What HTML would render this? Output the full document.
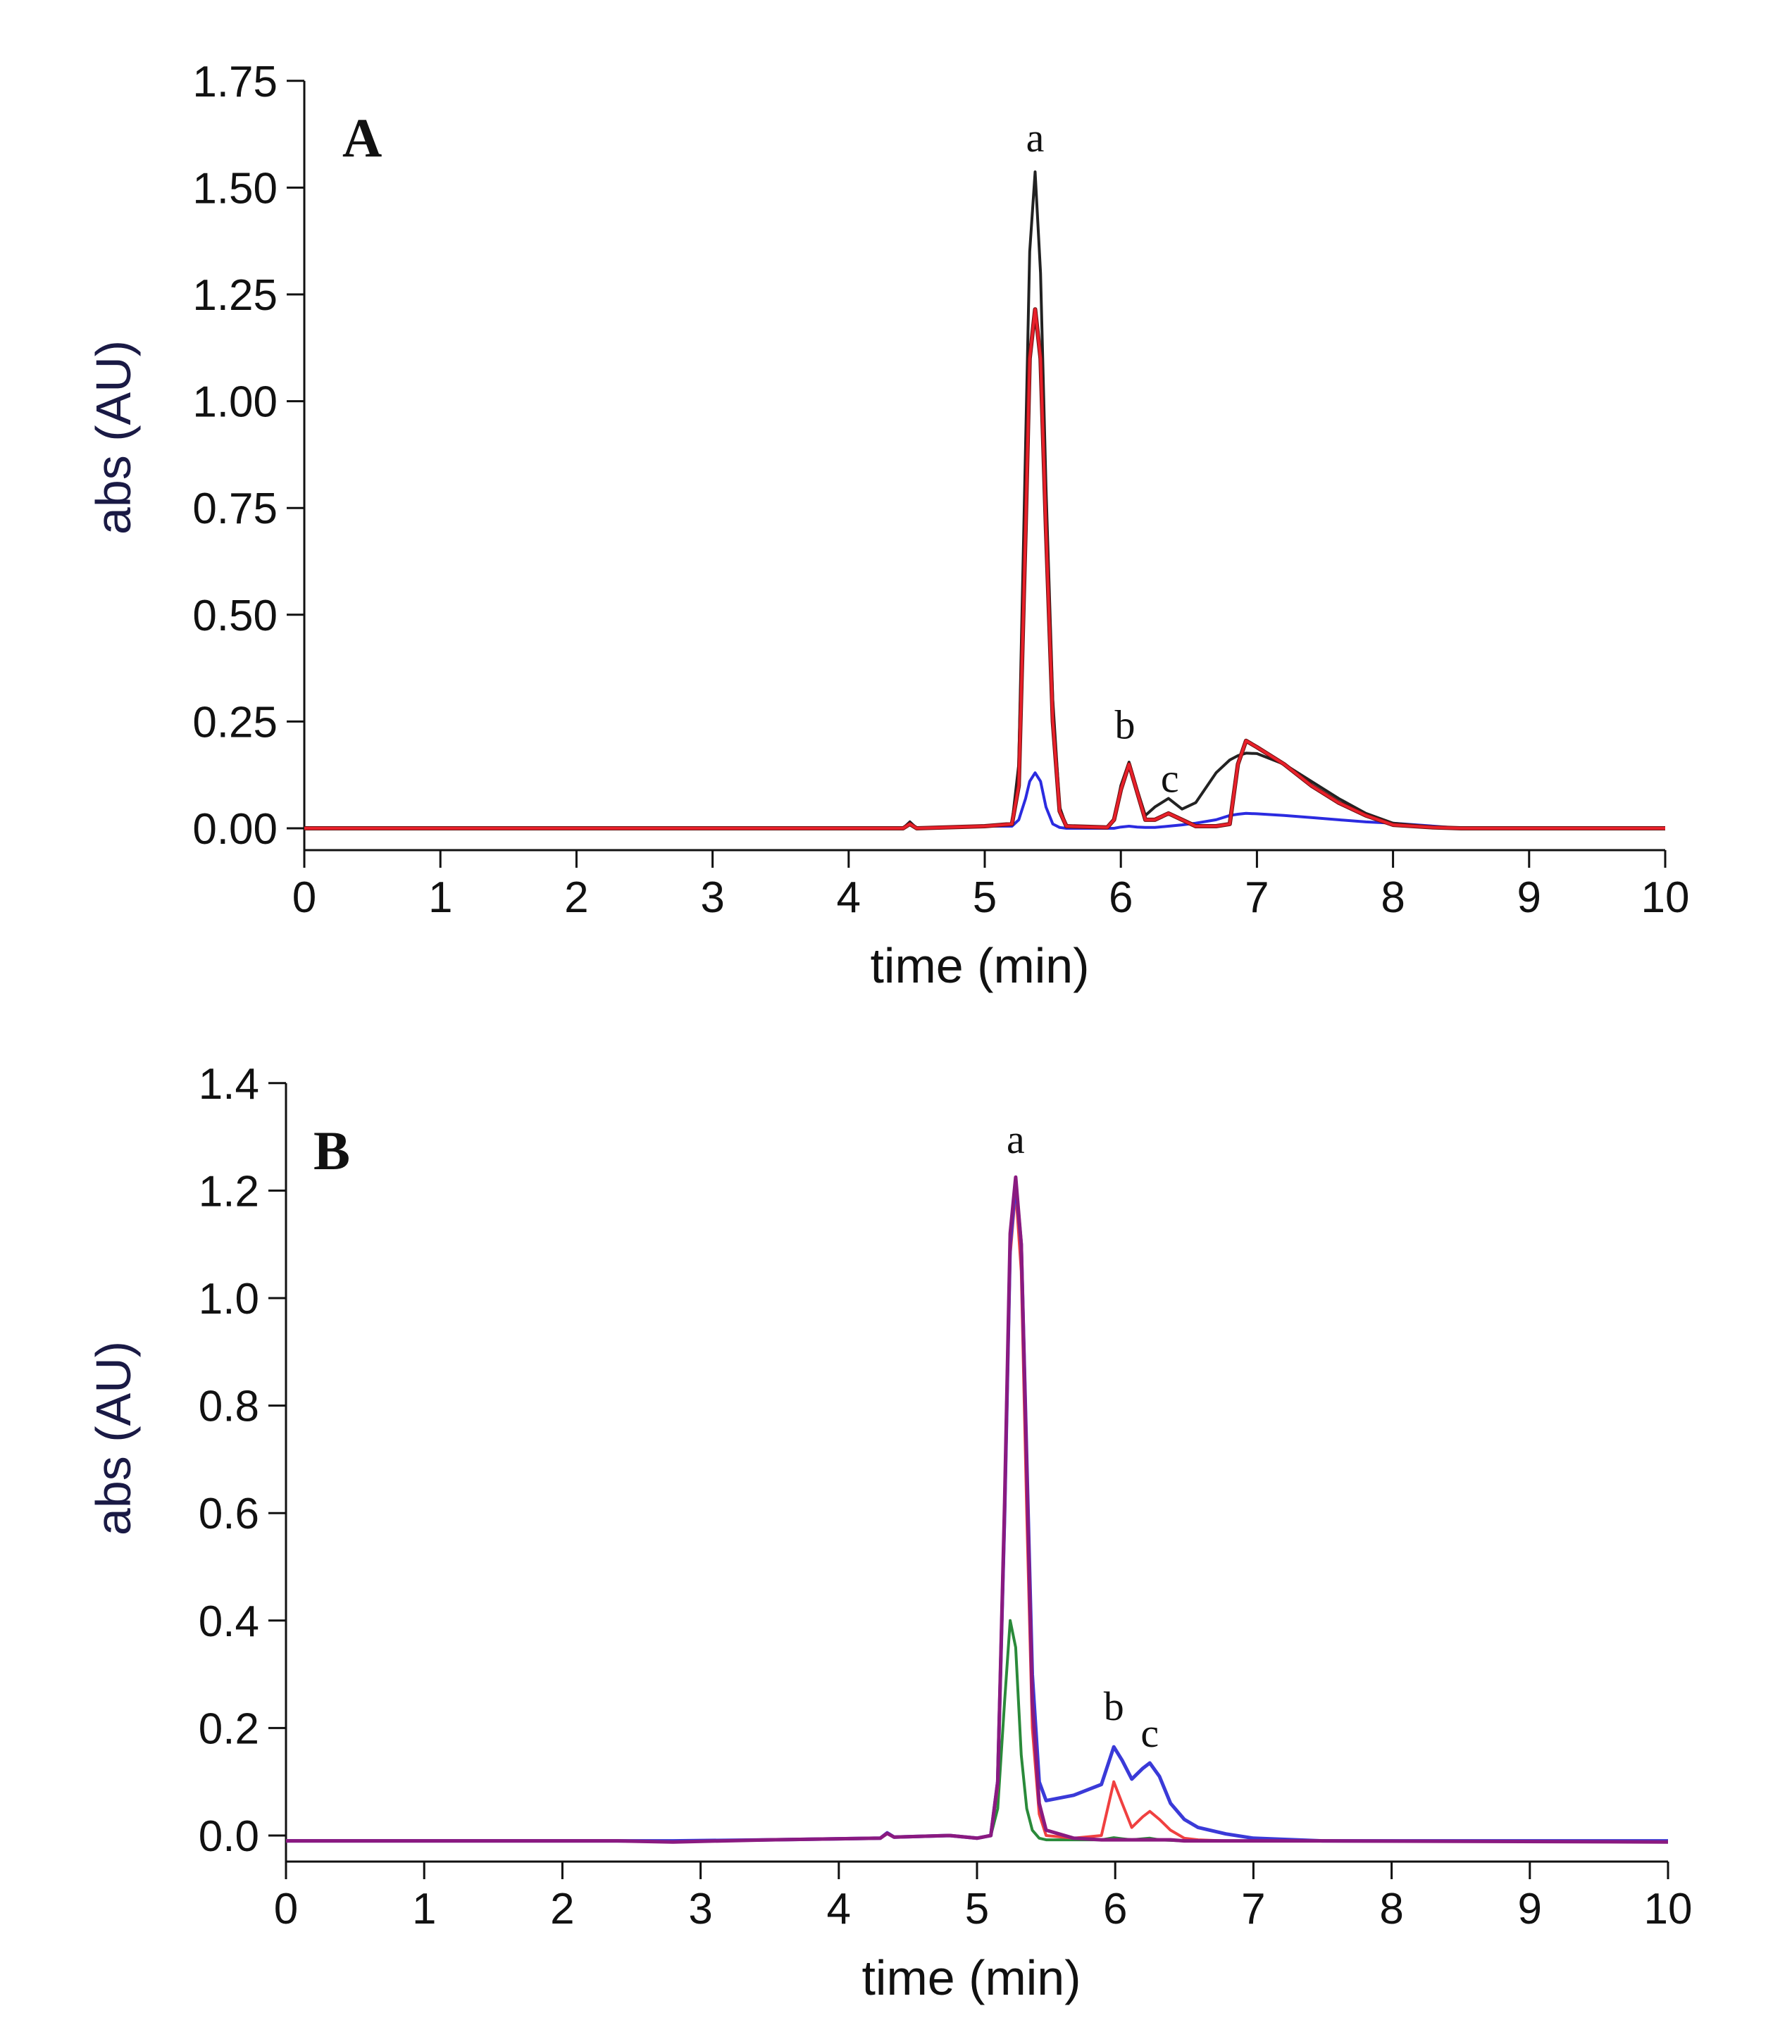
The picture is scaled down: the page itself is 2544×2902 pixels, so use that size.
<!DOCTYPE html>
<html><head><meta charset="utf-8"><style>
html,body{margin:0;padding:0;background:#fff;}
svg{display:block;}
</style></head><body>
<svg id="chart" width="2544" height="2902" viewBox="0 0 2544 2902" xmlns="http://www.w3.org/2000/svg" font-family="Liberation Sans, sans-serif">
<rect width="2544" height="2902" fill="#fff"/>
<g id="panelA"></g>
<g id="panelB"></g>
</svg>
<script>
// ---- Panel A data ----
const xTicks = [0,1,2,3,4,5,6,7,8,9,10];
const yTicksA = [0,0.25,0.5,0.75,1.0,1.25,1.5,1.75];
const yTickLabelsA = ["0.00","0.25","0.50","0.75","1.00","1.25","1.50","1.75"];
const timesA = [0,3,4.4,4.45,4.5,5.0,5.2,5.25,5.3,5.33,5.37,5.41,5.45,5.5,5.55,5.6,5.9,5.95,6.0,6.06,6.12,6.18,6.25,6.35,6.45,6.55,6.7,6.8,6.86,6.92,7.0,7.2,7.4,7.6,7.8,8.0,8.3,8.5,10];
const blackA = [0,0,0,0.015,0,0.005,0.01,0.15,0.9,1.35,1.537,1.3,0.8,0.3,0.05,0.005,0.002,0.02,0.1,0.155,0.09,0.03,0.05,0.07,0.045,0.06,0.13,0.16,0.17,0.176,0.175,0.15,0.11,0.07,0.035,0.012,0.003,0,0];
const redA = [0,0,0,0.01,0,0.005,0.01,0.1,0.7,1.1,1.215,1.1,0.7,0.25,0.04,0.005,0.002,0.02,0.09,0.15,0.085,0.02,0.02,0.035,0.02,0.005,0.005,0.01,0.15,0.205,0.19,0.15,0.1,0.06,0.03,0.008,0.002,0,0];
const blueA = [0,0,0,0.015,0,0.005,0.005,0.02,0.07,0.11,0.13,0.11,0.05,0.01,0.002,0,0,0,0.003,0.005,0.003,0.002,0.002,0.005,0.008,0.012,0.02,0.03,0.033,0.035,0.034,0.03,0.025,0.02,0.015,0.012,0.005,0,0];
const peakLabelsA = [["a",5.37,1.585],["b",6.03,0.21],["c",6.36,0.085]];

// ---- Panel B data ----
const yTicksB = [0,0.2,0.4,0.6,0.8,1.0,1.2,1.4];
const yTickLabelsB = ["0.0","0.2","0.4","0.6","0.8","1.0","1.2","1.4"];
const timesB = [0,2.4,2.8,3.5,4.3,4.35,4.4,4.8,5.0,5.1,5.15,5.2,5.24,5.28,5.32,5.36,5.4,5.45,5.5,5.7,5.9,5.99,6.05,6.12,6.2,6.25,6.32,6.4,6.5,6.6,6.8,7.0,7.5,10];
const blueB = [-0.01,-0.01,-0.01,-0.008,-0.005,0.005,-0.003,0.0,-0.005,0.0,0.1,0.6,1.1,1.215,1.1,0.7,0.3,0.1,0.065,0.075,0.095,0.165,0.14,0.105,0.125,0.135,0.11,0.06,0.03,0.015,0.003,-0.005,-0.01,-0.01];
const magentaB = [-0.01,-0.01,-0.012,-0.008,-0.005,0.004,-0.003,0.0,-0.005,0.0,0.1,0.62,1.12,1.225,1.1,0.68,0.25,0.06,0.01,-0.005,-0.008,-0.008,-0.008,-0.008,-0.008,-0.008,-0.008,-0.008,-0.01,-0.01,-0.01,-0.01,-0.01,-0.012];
const redB = [-0.01,-0.01,-0.012,-0.008,-0.005,0.004,-0.003,0.0,-0.005,0.0,0.09,0.58,1.08,1.2,1.05,0.6,0.2,0.04,0.0,-0.005,0.0,0.1,0.06,0.015,0.035,0.045,0.03,0.01,-0.005,-0.008,-0.01,-0.01,-0.01,-0.012];
const greenB = [-0.01,-0.01,-0.01,-0.008,-0.005,0.004,-0.003,0.0,-0.005,0.0,0.05,0.25,0.4,0.35,0.15,0.05,0.01,-0.005,-0.008,-0.008,-0.008,-0.004,-0.006,-0.008,-0.006,-0.005,-0.008,-0.009,-0.01,-0.01,-0.01,-0.01,-0.01,-0.01];
const peakLabelsB = [["a",5.28,1.27],["b",5.99,0.215],["c",6.25,0.165]];

const NS = "http://www.w3.org/2000/svg";
function mk(parent, tag, attrs){const e=document.createElementNS(NS,tag);for(const k in attrs)e.setAttribute(k,attrs[k]);parent.appendChild(e);return e;}

function drawPanel(g, cfg){
  const X = t => cfg.x0 + t*(cfg.x1-cfg.x0)/10;
  const Y = v => cfg.y0 - v*cfg.yPerUnit;
  const ya = mk(g,'line',{x1:cfg.x0,y1:Y(cfg.yTicks[cfg.yTicks.length-1]),x2:cfg.x0,y2:cfg.axisY+25,stroke:'#111','stroke-width':3});
  
  
  const xa = mk(g,'line',{x1:cfg.x0,y1:cfg.axisY,x2:cfg.x1,y2:cfg.axisY,stroke:'#111','stroke-width':3});
  
  
  cfg.yTicks.forEach((v,i)=>{
    const tk = mk(g,'line',{x1:cfg.x0-25,y1:Y(v),x2:cfg.x0,y2:Y(v),stroke:'#111','stroke-width':3});
    
    
    const tl = mk(g,'text',{x:cfg.x0-38,y:Y(v)+22,'font-size':62,'text-anchor':'end',fill:'#111'});
    tl.textContent = cfg.yLabels[i];
    
    
  });
  xTicks.forEach(t=>{
    const tk = mk(g,'line',{x1:X(t),y1:cfg.axisY,x2:X(t),y2:cfg.axisY+25,stroke:'#111','stroke-width':3});
    
    
    const tl = mk(g,'text',{x:X(t),y:cfg.axisY+88,'font-size':62,'text-anchor':'middle',fill:'#111'});
    tl.textContent = String(t);
    
    
  });
  const yt = mk(g,'text',{x:0,y:0,'font-size':70,'text-anchor':'middle',fill:'#1a1a45',transform:`translate(${cfg.yTitleX},${cfg.yTitleY}) rotate(-90)`});
  yt.textContent='abs (AU)';
  
  
  const xt = mk(g,'text',{x:cfg.xTitleX,y:cfg.xTitleY,'font-size':70,'text-anchor':'middle',fill:'#111'});
  xt.textContent='time (min)';
  
  
  const pl = mk(g,'text',{x:cfg.letterX,y:cfg.letterY,'font-size':78,'font-weight':'bold',fill:'#111',style:'font-family:"Liberation Serif",serif'});
  pl.textContent=cfg.letter;
  
  
  cfg.series.forEach(s=>{
    const pts = cfg.times.map((t,i)=>X(t).toFixed(1)+','+Y(s.vals[i]).toFixed(1)).join(' ');
    const p = mk(g,'polyline',{points:pts,fill:'none',stroke:s.color,'stroke-width':s.w||4,'stroke-linejoin':'round'});
    
    
  });
  cfg.peaks.forEach(pk=>{
    const t = mk(g,'text',{x:X(pk[1]),y:Y(pk[2]),'font-size':58,'text-anchor':'middle',fill:'#111',style:'font-family:"Liberation Serif",serif'});
    t.textContent=pk[0];
    
    
  });
}

drawPanel(document.getElementById('panelA'),{
  x0:432,x1:2364,y0:1176,yPerUnit:606.4,axisY:1207,
  yTicks:yTicksA,yLabels:yTickLabelsA,times:timesA,
  yTitleX:185,yTitleY:621,xTitleX:1391,xTitleY:1395,
  letter:'A',letterX:486,letterY:222,peaks:peakLabelsA,
  series:[
    {name:'series-blue',color:'#2b2be0',vals:blueA,w:4},
    {name:'series-black',color:'#222',vals:blackA,w:4},
    {name:'series-darkred',color:'#6a1010',vals:redA,w:6},
    {name:'series-red',color:'#e8202a',vals:redA,w:4}
  ]
});
drawPanel(document.getElementById('panelB'),{
  x0:406,x1:2368,y0:2606,yPerUnit:763,axisY:2643,
  yTicks:yTicksB,yLabels:yTickLabelsB,times:timesB,
  yTitleX:185,yTitleY:2042,xTitleX:1379,xTitleY:2832,
  letter:'B',letterX:445,letterY:1660,peaks:peakLabelsB,
  series:[
    {name:'series-green',color:'#2a8a3a',vals:greenB},
    {name:'series-red',color:'#f04040',vals:redB},
    {name:'series-blue',color:'#3a3ad8',vals:blueB,w:5},
    {name:'series-magenta',color:'#8a1a80',vals:magentaB,w:5}
  ]
});
</script>
</body></html>
